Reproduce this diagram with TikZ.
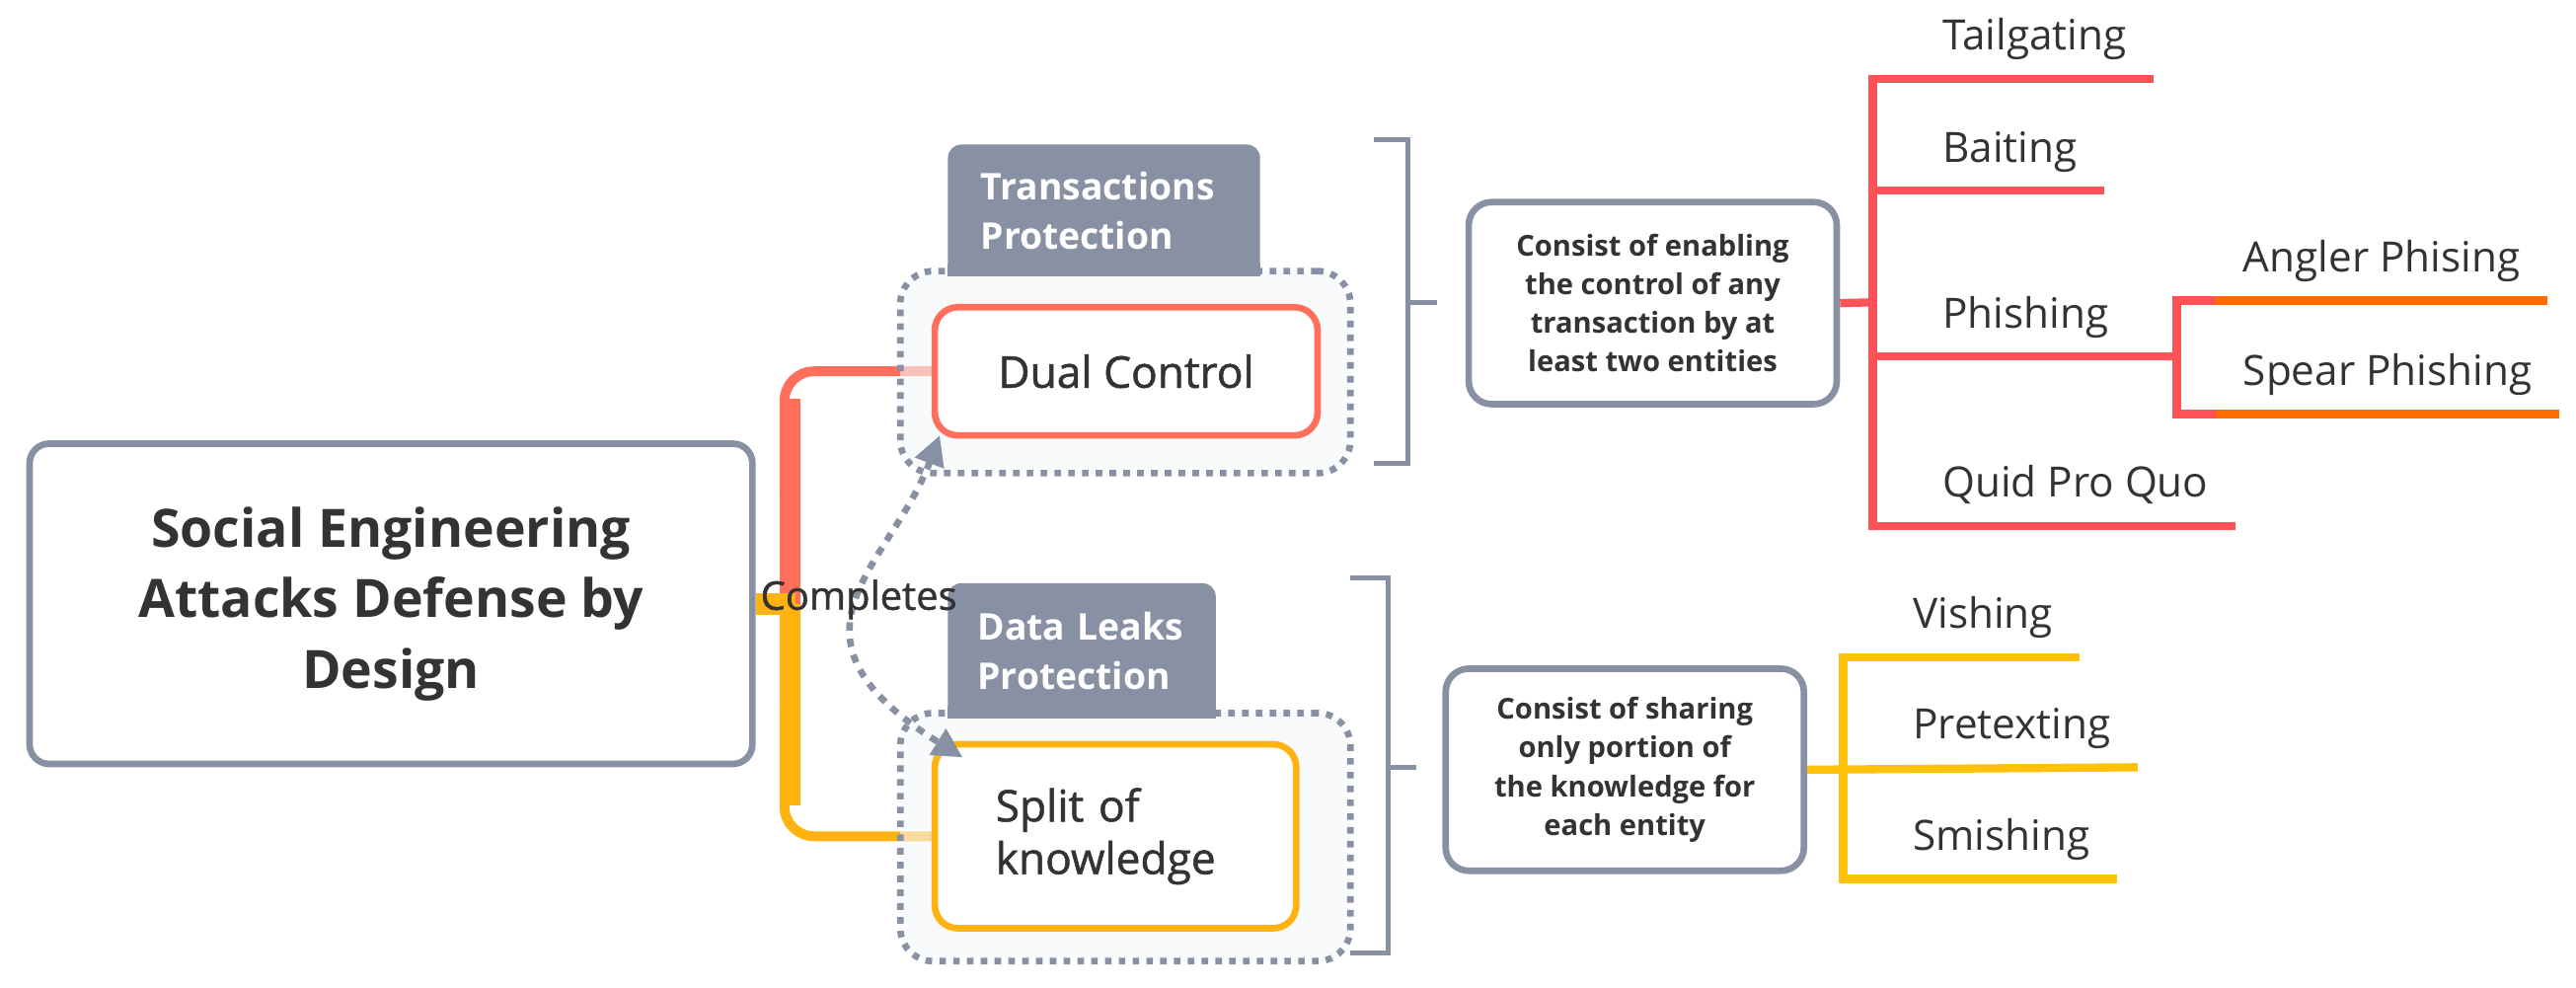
\documentclass[tikz,border=0pt]{standalone}
\usepackage{fontspec}
\setmainfont{Open Sans}
\newfontfamily\osemi[FakeBold=1.2]{Open Sans}
\usetikzlibrary{arrows.meta,calc,backgrounds}

\definecolor{slate}{HTML}{8891A4}
\definecolor{ink}{HTML}{333333}
\definecolor{coral}{HTML}{FF6F5B}
\definecolor{amber}{HTML}{FFB310}
\definecolor{redbr}{HTML}{FF5257}
\definecolor{orangebr}{HTML}{FF6D00}
\definecolor{yellowbr}{HTML}{FFC10A}
\definecolor{groupbg}{HTML}{F4F6FA}

\tikzset{
    rootbox/.style={draw=slate, line width=2pt, rounded corners=6pt, fill=white,
        minimum width=220pt, minimum height=97.5pt, align=center, text=ink,
        font=\bfseries\fontsize{16.1}{21.5}\selectfont},
    groupbox/.style={draw=slate, line width=2pt, dash pattern=on 2pt off 2.2pt,
        rounded corners=10pt, fill=groupbg, fill opacity=0.6, minimum width=137pt},
    tabbox/.style={fill=slate, rounded corners=4pt, text=white, align=left,
        font=\bfseries\fontsize{11.2}{15}\selectfont},
    topicbox/.style={line width=2pt, rounded corners=7pt, fill=white, text=ink,
        font=\osemi\fontsize{13.3}{16}\selectfont},
    descbox/.style={draw=slate, line width=2pt, rounded corners=7pt, fill=white,
        text=ink, align=center, minimum height=61.5pt,
        font=\bfseries\fontsize{8.75}{11.75}\selectfont},
    leaf/.style={anchor=south west, inner xsep=8pt, inner ysep=8.5pt,
        text depth=0pt, text=ink, font=\fontsize{12.7}{15}\selectfont},
    redline/.style={draw=redbr, line width=2.5pt},
    orangeline/.style={draw=orangebr, line width=2.5pt},
    yellowline/.style={draw=yellowbr, line width=2.5pt},
    bracket/.style={draw=slate, line width=1.5pt},
    linkarrow/.style={draw=slate, line width=2pt, dash pattern=on 2.5pt off 2.5pt,
        {Triangle[length=9pt,width=9pt]}-{Triangle[length=9pt,width=9pt]}}
}

\begin{document}
\begin{tikzpicture}[x=0.5pt, y=-0.5pt]
        \useasboundingbox (0,0) rectangle (1568,601);

        \node[rootbox] (root) at (238,367.5) {Social Engineering\\Attacks Defense by\\Design};
        \node[topicbox, draw=coral, minimum width=116.5pt, minimum height=39pt] (dual)
            at (685.5,226) {Dual Control};
        \node[topicbox, draw=amber, minimum height=56pt, text width=73pt,
            inner xsep=18.5pt, align=left] (split) at (679,509) {Split of\\knowledge};

        \node[tabbox, minimum height=40pt, text width=75pt, inner xsep=10pt] (ttab)
            at (672,128) {Transactions\\Protection};
        \fill[slate] ($(ttab.south west)+(0,-8)$) rectangle (ttab.south east);
        \node[tabbox, minimum height=41pt, text width=63.5pt, inner xsep=9pt] (dtab)
            at (658.5,396) {Data Leaks\\Protection};
        \fill[slate] ($(dtab.south west)+(0,-8)$) rectangle (dtab.south east);

        \begin{scope}[on background layer]
            \draw[coral, line width=3pt, rounded corners=9pt] (dual.west) -| (477.5,300);
            \draw[coral, line width=6.5pt] (481,243) -- (481,367.5);
            \draw[amber, line width=6.5pt] (481,367.5) -- (481,490);
            \draw[amber, line width=3pt, rounded corners=9pt] (split.west) -| (477.5,430);
            \draw[amber, line width=6.5pt] (root.east) -- (484,367.5);
            \node[groupbox, minimum height=61.5pt] (grp1) at (685,226.5) {};
            \node[groupbox, minimum height=75.5pt] (grp2) at (685,509.5) {};
        \end{scope}

        \draw[linkarrow] ($(dual.south west)+(5,-2)$) .. controls +(-30,80) and +(-120,-75) ..
            ($(split.north west)+(19,10)$) node[pos=0.5, text=ink,
            font=\osemi\fontsize{12}{14}\selectfont] (compl) {Completes};

        \coordinate (brk1) at (857,184);
        \coordinate (brk2) at (845,467);
        \draw[bracket] (836,85) -- (857,85) -- (857,282) -- (836,282);
        \draw[bracket] (brk1) -- ++(18,0);
        \draw[bracket] (822,352) -- (845,352) -- (845,580) -- (822,580);
        \draw[bracket] (brk2) -- ++(17,0);

        \node[descbox, minimum width=112pt] (desc1) at (1006,184.5)
            {Consist of enabling\\the control of any\\transaction by at\\least two entities};
        \node[descbox, minimum width=109pt] (desc2) at (989,468.5)
            {Consist of sharing\\only portion of\\the knowledge for\\each entity};

        \coordinate (bus1) at (1140,184);
        \coordinate (bus2) at (1325,217);
        \coordinate (bus3) at (1122,467);

        \node[leaf] (tail) at (1166,48) {Tailgating};
        \node[leaf] (bait) at (1166,116) {Baiting};
        \node[leaf] (phish) at (1166,217) {Phishing};
        \node[leaf] (quid) at (1166,320) {Quid Pro Quo};
        \node[leaf] (angl) at (1349,183) {Angler Phising};
        \node[leaf] (spear) at (1349,252) {Spear Phishing};
        \node[leaf] (vish) at (1148,400) {Vishing};
        \node[leaf] (pret) at (1148,467) {Pretexting};
        \node[leaf] (smish) at (1148,535) {Smishing};

        \draw[redline] (desc1.east) -- (bus1);
        \draw[redline] (tail.south east) -- (tail.south west -| bus1)
            -- (quid.south west -| bus1) -- (quid.south east);
        \draw[redline] (bait.south west -| bus1) -- (bait.south east);
        \draw[redline] (phish.south west -| bus1) -- (bus2);
        \draw[redline] (angl.south west) -- (angl.south west -| bus2)
            -- (spear.south west -| bus2) -- (spear.south west);
        \draw[orangeline] (angl.south west) -- (angl.south east);
        \draw[orangeline] (spear.south west) -- (spear.south east);

        \draw[yellowline] (desc2.east) -- (pret.south east);
        \draw[yellowline] (vish.south east) -- (vish.south west -| bus3)
            -- (smish.south west -| bus3) -- (smish.south east);
\end{tikzpicture}
\end{document}
